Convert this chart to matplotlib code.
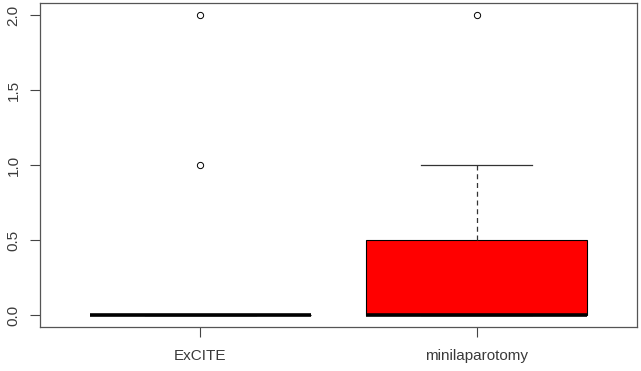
import matplotlib.pyplot as plt

# Data (box statistics)
groups = ['ExCITE', 'minilaparotomy']
q1 = [0.0, 0.0]
medians = [0.0, 0.0]
q3 = [0.0, 0.5]
whisker_lo = [0.0, 0.0]
whisker_hi = [0.0, 1.0]
outliers = [[1.0, 2.0], [2.0]]
box_colors = ['white', 'red']

stats = []
for i, name in enumerate(groups):
    stats.append({'label': name, 'q1': q1[i], 'med': medians[i], 'q3': q3[i],
                  'whislo': whisker_lo[i], 'whishi': whisker_hi[i],
                  'fliers': outliers[i]})

plt.rcParams['font.family'] = ['Liberation Sans', 'DejaVu Sans']

fig = plt.figure(figsize=(6.41, 3.71), dpi=100)
ax = fig.add_axes([40 / 641, 1 - 327 / 371, 597 / 641, 324 / 371])

bp = ax.bxp(stats, positions=[1, 2], widths=0.8, patch_artist=True,
            boxprops=dict(edgecolor='black', linewidth=0.8),
            medianprops=dict(color='black', linewidth=2.6, solid_capstyle='butt'),
            whiskerprops=dict(color='#333333', linewidth=0.9, linestyle=(0, (4, 3))),
            capprops=dict(color='#333333', linewidth=0.9),
            flierprops=dict(marker='o', markersize=4.5, markerfacecolor='none',
                            markeredgecolor='black', markeredgewidth=0.7),
            capwidths=0.4)
for patch, c in zip(bp['boxes'], box_colors):
    patch.set_facecolor(c)

ax.set_xlim(0.42, 2.58)
ax.set_ylim(-0.08, 2.08)
ax.set_yticks([0.0, 0.5, 1.0, 1.5, 2.0])
ax.set_yticklabels(['0.0', '0.5', '1.0', '1.5', '2.0'], rotation=90, va='center')
ax.set_xticks([1, 2])
ax.set_xticklabels(groups)
ax.tick_params(axis='both', length=7, width=0.8, color='#444444',
               labelsize=11, labelcolor='#3a3a3a')
ax.tick_params(axis='x', pad=9)
ax.tick_params(axis='y', pad=7)
for s in ax.spines.values():
    s.set_color('#555555')
    s.set_linewidth(0.9)

fig.savefig('out.png', dpi=100)
